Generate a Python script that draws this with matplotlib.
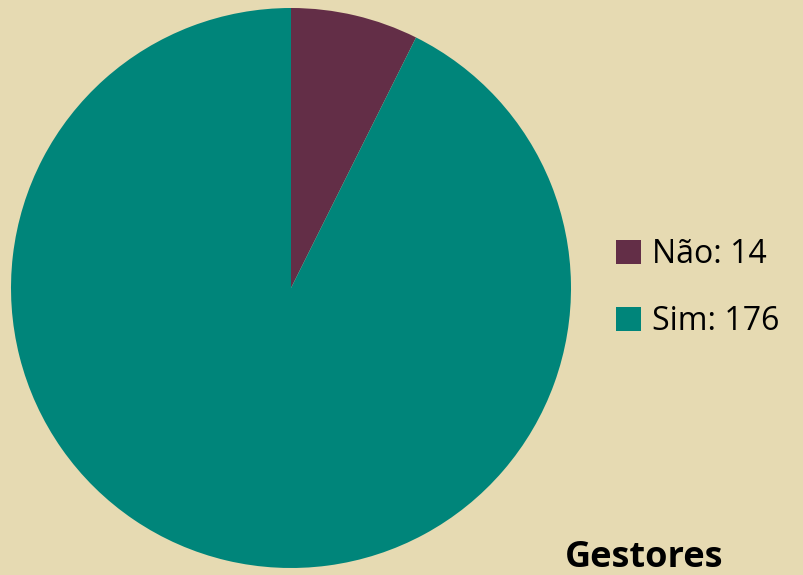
import matplotlib.pyplot as plt

labels = ['Não', 'Sim']
values = [14, 176]
colors = ['#632E47', '#00857A']

plt.rcParams['font.family'] = ['Open Sans', 'DejaVu Sans']

fig = plt.figure(figsize=(8.04, 5.75), dpi=100)
fig.patch.set_facecolor('#E6DAB2')

# pie area in pixels: centre (291, 288), radius 280
ax = fig.add_axes([11 / 804, (575 - 568) / 575, 560 / 804, 560 / 575])
wedges, _ = ax.pie(values, colors=colors, startangle=90, counterclock=False,
                   radius=1.0, wedgeprops={'linewidth': 0})
ax.set_xlim(-1, 1)
ax.set_ylim(-1, 1)
ax.set_aspect('equal')

leg_labels = ['%s: %d' % (l, v) for l, v in zip(labels, values)]
fig.legend(wedges, leg_labels, loc='center left', bbox_to_anchor=(600 / 804, 1 - 288 / 575),
           frameon=False, fontsize=23, handlelength=0.78, handleheight=0.78,
           handletextpad=0.35, labelspacing=1.05, borderpad=0)

fig.text(565 / 804, 1 - 567 / 575, 'Gestores', fontsize=26, fontweight='bold',
         ha='left', va='baseline')

fig.savefig('out.png', dpi=100, facecolor=fig.get_facecolor())
